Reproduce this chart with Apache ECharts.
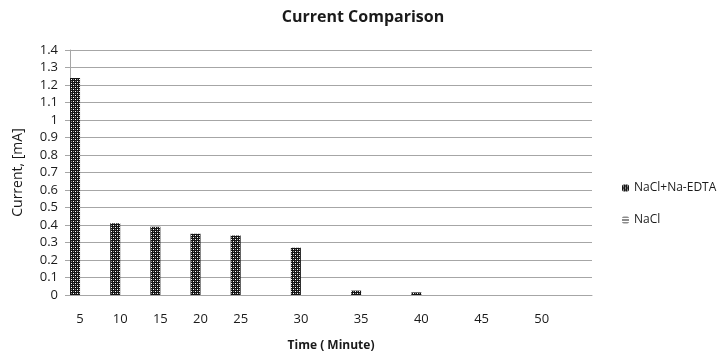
<!DOCTYPE html>
<html>
<head>
<meta charset="utf-8">
<script src="https://cdn.jsdelivr.net/npm/echarts@6/dist/echarts.min.js"></script>
<style>
  html, body { margin: 0; padding: 0; background: #fff; }
  #chart { width: 726px; height: 358px; }
</style>
</head>
<body>
<div id="chart"></div>
<script>
// Sampling times (minutes) and measured current (mA)
const timeLabels = ['5', '10', '15', '20', '25', '30', '35', '40', '45', '50'];
const edtaCurrent = [1.24, 0.41, 0.39, 0.35, 0.34, 0.27, 0.025, 0.015, 0, 0];
const naclCurrent = [0, 0, 0, 0, 0, 0, 0, 0, 0, 0];
const yTicks = { min: 0, max: 1.4, step: 0.1 };

// Category slots on the time axis: the later readings sit further apart
const slotIndex = [0, 2, 4, 6, 8, 11, 14, 17, 20, 23];
const slotCount = 26;

const slotLabels = new Array(slotCount).fill('');
const edtaSlots = new Array(slotCount).fill(null);
const naclSlots = new Array(slotCount).fill(null);
timeLabels.forEach((t, i) => {
  slotLabels[slotIndex[i]] = t;
  edtaSlots[slotIndex[i]] = edtaCurrent[i];
  naclSlots[slotIndex[i]] = naclCurrent[i];
});

// Pattern fills for the bars
function makeTile(size, draw) {
  const c = document.createElement('canvas');
  c.width = size; c.height = size;
  const g = c.getContext('2d');
  draw(g);
  return c;
}
const hatchTile = makeTile(4, g => {
  g.fillStyle = '#141414'; g.fillRect(0, 0, 4, 4);
  g.fillStyle = '#ffffff'; g.fillRect(1, 1, 1, 1); g.fillRect(3, 3, 1, 1);
  g.fillStyle = '#8c8c8c'; g.fillRect(3, 1, 1, 1); g.fillRect(1, 3, 1, 1);
});
const lineTile = makeTile(3, g => {
  g.fillStyle = '#ffffff'; g.fillRect(0, 0, 3, 3);
  g.fillStyle = '#1a1a1a'; g.fillRect(0, 0, 3, 1);
});

const font = '"Open Sans", Lato, sans-serif';
const chart = echarts.init(document.getElementById('chart'), null, { renderer: 'canvas' });
chart.setOption({
  animation: false,
  backgroundColor: '#ffffff',
  title: {
    text: 'Current Comparison',
    left: 'center',
    top: 4,
    textStyle: { fontFamily: font, fontSize: 16, fontWeight: 'bold', color: '#1a1a1a' }
  },
  legend: {
    orient: 'vertical',
    left: 617,
    top: 177,
    itemWidth: 7,
    itemHeight: 7,
    itemGap: 20,
    textStyle: { fontFamily: font, fontSize: 12, color: '#1a1a1a' },
    data: ['NaCl+Na-EDTA', 'NaCl']
  },
  grid: { left: 70, right: 134, top: 50, bottom: 63 },
  xAxis: {
    type: 'category',
    data: slotLabels,
    boundaryGap: true,
    name: 'Time ( Minute)',
    nameLocation: 'middle',
    nameGap: 45,
    nameTextStyle: { fontFamily: font, fontSize: 12, fontWeight: 'bold', color: '#1a1a1a' },
    axisLine: { lineStyle: { color: '#a6a6a6', width: 1 } },
    axisTick: { show: false },
    axisLabel: { interval: 0, margin: 18, fontFamily: font, fontSize: 13, color: '#1a1a1a' }
  },
  yAxis: {
    type: 'value',
    min: yTicks.min,
    max: yTicks.max,
    interval: yTicks.step,
    name: 'Current, [mA]',
    nameLocation: 'middle',
    nameRotate: 90,
    nameGap: 45,
    nameTextStyle: { fontFamily: font, fontSize: 14, color: '#1a1a1a' },
    axisLine: { show: true, lineStyle: { color: '#a6a6a6', width: 1 } },
    axisTick: { show: true, length: 5, lineStyle: { color: '#a6a6a6' } },
    axisLabel: { margin: 12, fontFamily: font, fontSize: 13, color: '#1a1a1a' },
    splitLine: { lineStyle: { color: '#a6a6a6', width: 1 } }
  },
  series: [
    {
      name: 'NaCl+Na-EDTA',
      type: 'bar',
      data: edtaSlots,
      barWidth: 10,
      barGap: '0%',
      itemStyle: { color: { image: hatchTile, repeat: 'repeat' } }
    },
    {
      name: 'NaCl',
      type: 'bar',
      data: naclSlots,
      barWidth: 10,
      barGap: '0%',
      itemStyle: { color: { image: lineTile, repeat: 'repeat' } }
    }
  ]
});
</script>
</body>
</html>
